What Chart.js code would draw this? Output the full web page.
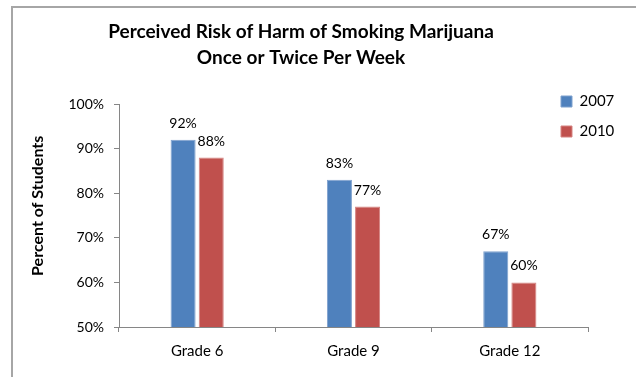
<!DOCTYPE html>
<html>
<head>
<meta charset="utf-8">
<script src="https://cdn.jsdelivr.net/npm/chart.js@4.4.1/dist/chart.umd.min.js"></script>
<style>
  html, body { margin: 0; padding: 0; background: #fff; }
  #wrap { position: relative; width: 636px; height: 377px; overflow: hidden; }
  #frame { position: absolute; left: 11px; top: 6px; width: 700px; height: 420px;
           border: 2px solid #a6a6a6; box-sizing: border-box; }
  #c { position: absolute; left: 0; top: 0; }
</style>
</head>
<body>
<div id="wrap">
  <div id="frame"></div>
  <canvas id="c" width="636" height="377"></canvas>
</div>
<script>
// Survey results: share of students who see harm in weekly marijuana use
const categories = ['Grade 6', 'Grade 9', 'Grade 12'];
const seriesNames = ['2007', '2010'];
const values2007 = [92, 83, 67];
const values2010 = [88, 77, 60];
const yTicks = [50, 60, 70, 80, 90, 100];
const titleLines = ['Perceived Risk of Harm of Smoking Marijuana', 'Once or Twice Per Week'];
const yAxisTitle = 'Percent of Students';

const FONT = 'Lato, "Open Sans", sans-serif';
const axisGray = '#868686';

// Writes each bar's percentage just above its top
const valueLabels = {
  id: 'valueLabels',
  afterDatasetsDraw(chart) {
    const ctx = chart.ctx;
    ctx.save();
    ctx.font = '14px ' + FONT;
    ctx.fillStyle = '#000';
    ctx.textAlign = 'center';
    ctx.textBaseline = 'alphabetic';
    chart.data.datasets.forEach((ds, di) => {
      chart.getDatasetMeta(di).data.forEach((bar, i) => {
        ctx.fillText(ds.data[i] + '%', bar.x, bar.y - 12);
      });
    });
    ctx.restore();
  }
};

// Moves the legend into the empty upper-right corner of the plot
const legendCorner = {
  id: 'legendCorner',
  afterLayout(chart) {
    const lg = chart.legend;
    if (!lg) return;
    const w = lg.right - lg.left, h = lg.bottom - lg.top;
    lg.left = 546; lg.right = lg.left + w;
    lg.top = 79; lg.bottom = lg.top + h;
  }
};

new Chart(document.getElementById('c'), {
  type: 'bar',
  data: {
    labels: categories,
    datasets: [
      { label: seriesNames[0], data: values2007, backgroundColor: '#4F81BD',
        borderColor: '#7FA1CE', borderWidth: 1 },
      { label: seriesNames[1], data: values2010, backgroundColor: '#C0504D',
        borderColor: '#D58381', borderWidth: 1 }
    ]
  },
  options: {
    responsive: false,
    animation: false,
    events: [],
    categoryPercentage: 0.36,
    barPercentage: 0.89,
    layout: { padding: { left: 14, right: 48, top: 4, bottom: 7 } },
    plugins: {
      title: {
        display: true,
        text: titleLines,
        color: '#000',
        font: { family: FONT, size: 19, weight: 'bold', lineHeight: 1.37 },
        padding: { top: 15, bottom: 33 }
      },
      legend: {
        position: 'chartArea',
        align: 'start',
        labels: {
          color: '#000',
          font: { family: FONT, size: 15 },
          boxWidth: 11,
          boxHeight: 11,
          padding: 15
        }
      },
      tooltip: { enabled: false }
    },
    scales: {
      x: {
        grid: { display: true, drawOnChartArea: false, drawTicks: true, tickLength: 5,
                color: axisGray, offset: true },
        border: { display: true, color: axisGray, width: 1 },
        ticks: { color: '#000', font: { family: FONT, size: 15 }, padding: 10 }
      },
      y: {
        min: 50,
        max: 100,
        afterBuildTicks(scale) { scale.ticks = yTicks.map(v => ({ value: v })); },
        afterFit(scale) { scale.width = 105; },
        grid: { display: true, drawOnChartArea: false, drawTicks: true, tickLength: 5,
                color: axisGray },
        border: { display: true, color: axisGray, width: 1 },
        ticks: { color: '#000', font: { family: FONT, size: 14 }, padding: 10,
                 callback: v => v + '%' },
        title: { display: true, text: '     ' + yAxisTitle, color: '#000',
                 font: { family: FONT, size: 16, weight: 'bold' }, padding: { top: 14, bottom: 0 } }
      }
    }
  },
  plugins: [valueLabels, legendCorner]
});
</script>
</body>
</html>
